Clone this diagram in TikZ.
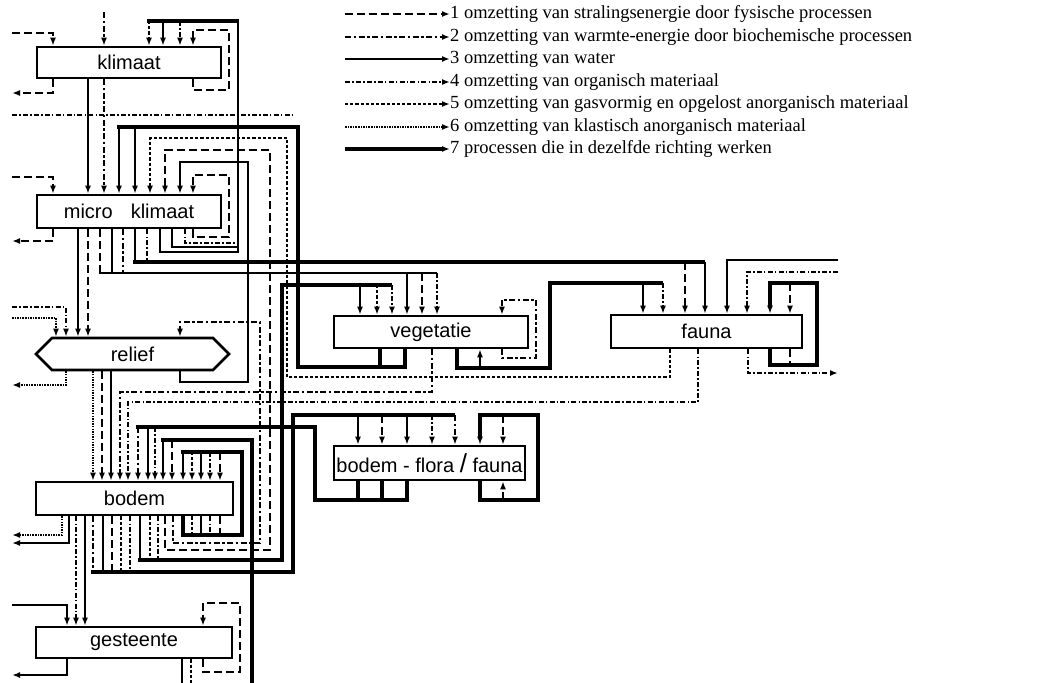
\documentclass[tikz,border=0pt]{standalone}
\usepackage{fontspec}
\setmainfont{Liberation Serif}
\newfontfamily\boxfont{Liberation Sans}
\usetikzlibrary{arrows.meta,shapes.symbols}
\tikzset{
  lb/.style={line width=1.8pt},
  s1/.style={lb,dash pattern=on 8pt off 4pt},
  s2/.style={line width=1.8pt,dash pattern=on 6pt off 2.5pt on 2.5pt off 2.5pt},
  s3/.style={lb},
  s4/.style={lb,dash pattern=on 5pt off 2.2pt on 1.5pt off 2.2pt},
  s5/.style={lb,dash pattern=on 3.2pt off 2pt},
  s6/.style={line width=2.5pt,dash pattern=on 1.5pt off 1.1pt},
  s7/.style={line width=3.4pt},
  ar/.style={-{Latex[length=8pt,width=6pt]}},
  box/.style={draw,line width=2.6pt,fill=white,inner sep=0pt,font=\boxfont\fontsize{20}{24}\selectfont},
  leg/.style={anchor=west,inner sep=0pt,font=\fontsize{18.5}{22}\selectfont},
}
\begin{document}
\begin{tikzpicture}[x=1pt,y=-1pt]
\fill[white] (0,0) rectangle (1053,683);
\useasboundingbox (0,0) rectangle (1053,683);

% ---------- boxes ----------
\node[box,minimum width=184pt,minimum height=31pt] (k) at (129,62.5) {klimaat};
\node[box,minimum width=184pt,minimum height=33pt] (m) at (129,211.5) {micro\hspace{18pt}klimaat};
\node[box,shape=signal,signal to=west and east,signal pointer angle=90,minimum width=193pt,minimum height=32pt] (r) at (132.5,354) {relief};
\node[box,minimum width=194pt,minimum height=32pt] (v) at (431,332) {vegetatie};
\node[box,minimum width=191pt,minimum height=33pt] (f) at (706.5,331.5) {fauna};
\node[box,minimum width=191pt,minimum height=34pt] (bff) at (429.5,463) {bodem - flora {\fontsize{26}{26}\selectfont/} fauna};
\node[box,minimum width=197pt,minimum height=33pt] (b) at (134.5,498.5) {bodem};
\node[box,minimum width=196pt,minimum height=31pt] (g) at (134,642.5) {gesteente};

% ---------- legend ----------
\node[leg] (l1) at (450,14) {1 omzetting van stralingsenergie door fysische processen};
\node[leg] (l2) at (450,37) {2 omzetting van warmte-energie door biochemische processen};
\node[leg] (l3) at (450,59) {3 omzetting van water};
\node[leg] (l4) at (450,82) {4 omzetting van organisch materiaal};
\node[leg] (l5) at (450,104) {5 omzetting van gasvormig en opgelost anorganisch materiaal};
\node[leg] (l6) at (450,127) {6 omzetting van klastisch anorganisch materiaal};
\node[leg] (l7) at (450,149) {7 processen die in dezelfde richting werken};
\coordinate (c1) at (345,14);  \draw[s1,ar] (c1) -- (l1.west);
\coordinate (c2) at (345,37);  \draw[s2,ar] (c2) -- (l2.west);
\coordinate (c3) at (345,59);  \draw[s3,ar] (c3) -- (l3.west);
\coordinate (c4) at (345,82);  \draw[s4,ar] (c4) -- (l4.west);
\coordinate (c5) at (345,104); \draw[s5,ar] (c5) -- (l5.west);
\coordinate (c6) at (345,127); \draw[s6,ar] (c6) -- (l6.west);
\coordinate (c7) at (345,149); \draw[s7,ar] (c7) -- (l7.west);

% ---------- klimaat ----------
\coordinate (kinL) at (12,33);  \draw[s1,ar] (kinL) -| (53,0 |- k.north);
\coordinate (koutL) at (12,93); \draw[s1,ar] (53,0 |- k.south) |- (koutL);
\coordinate (ktop) at (104,12); \draw[s2,ar] (ktop) -- (104,0 |- k.north);
\draw[s1,ar] (193,0 |- k.south) -- (193,90) -- (229,90) -- (229,30) -- (193,30) -- (193,0 |- k.north);
\draw[s3,ar] (88,0 |- k.south) -- (88,0 |- m.north);
\draw[s2,ar] (104,0 |- k.south) -- (104,0 |- m.north);
% micro klimaat -> klimaat
\draw[s3] (160,0 |- m.south) -- (160,252) -- (238,252) -- (238,21);
\draw[s3] (172,0 |- m.south) -- (172,247) -- (238,247);
\draw[s4] (185,0 |- m.south) -- (185,243) -- (238,243);
\draw[s7] (239,21) -- (147.3,21);
\draw[s5,ar] (149,21) -- (149,0 |- k.north);
\draw[s3,ar] (163,21) -- (163,0 |- k.north);
\draw[s4,ar] (180,21) -- (180,0 |- k.north);
\coordinate (hL) at (12,115); \coordinate (hR) at (292,115);
\draw[s4] (hL) -- (hR);

% ---------- micro klimaat ----------
\coordinate (minL) at (12,177);  \draw[s1,ar] (minL) -| (53,0 |- m.north);
\coordinate (moutL) at (12,241); \draw[s1,ar] (53,0 |- m.south) |- (moutL);
\draw[s1,ar] (193,0 |- m.south) -- (193,237) -- (229,237) -- (229,175) -- (193,175) -- (193,0 |- m.north);
% vegetatie -> micro klimaat
\draw[s7] (380,0 |- v.south) -- (380,367) -- (298,367) -- (298,127) -- (117.3,127);
\draw[s7] (405,0 |- v.south) -- (405,367) -- (380,367);
\draw[s3,ar] (119,127) -- (119,0 |- m.north);
\draw[s3,ar] (135,127) -- (135,0 |- m.north);
% fauna -> micro klimaat
\draw[s5,ar] (670,0 |- f.south) -- (670,377) -- (287,377) -- (287,138) -- (150,138) -- (150,0 |- m.north);
% bodem -> micro klimaat
\draw[s1,ar] (165,0 |- b.south) -- (165,550) -- (270,550) -- (270,150) -- (165,150) -- (165,0 |- m.north);
% relief -> micro klimaat
\draw[s3,ar] (180,0 |- r.south) -- (180,382) -- (248,382) -- (248,162) -- (180,162) -- (180,0 |- m.north);

% ---------- micro klimaat -> relief ----------
\draw[s3,ar] (78,0 |- m.south) -- (78,0 |- r.north);
\draw[s1,ar] (88,0 |- m.south) -- (88,0 |- r.north);

% ---------- micro klimaat -> vegetatie ----------
\draw[s1] (100,0 |- m.south) -- (100,273);
\draw[s3] (112,0 |- m.south) -- (112,273);
\draw[s2] (123,0 |- m.south) -- (123,273);
\draw[line width=2.2pt] (99,273) -- (437,273);
\draw[s3,ar] (407,273) -- (407,0 |- v.north);
\draw[s1,ar] (422,273) -- (422,0 |- v.north);
\draw[s4,ar] (437,273) -- (437,0 |- v.north);

% ---------- micro klimaat -> fauna ----------
\draw[s3] (135,0 |- m.south) -- (135,262);
\draw[s4] (147,0 |- m.south) -- (147,262);
\draw[s7] (133.3,262) -- (705,262);
\draw[s1,ar] (685,262) -- (685,0 |- f.north);
\draw[s3,ar] (705,262) -- (705,0 |- f.north);

% ---------- relief ----------
\coordinate (rinA) at (12,307); \draw[s4,ar] (rinA) -| (66,0 |- r.north);
\coordinate (rinB) at (12,318); \draw[s6,ar] (rinB) -| (56,0 |- r.north);
\coordinate (routL) at (12,385); \draw[s6,ar] (66,0 |- r.south) |- (routL);
\draw[s6,ar] (93,0 |- r.south) -- (93,0 |- b.north);
\draw[s1,ar] (102,0 |- r.south) -- (102,0 |- b.north);
\draw[s3,ar] (111,0 |- r.south) -- (111,0 |- b.north);
% bodem -> relief
\draw[s2,ar] (173,0 |- b.south) -- (173,543) -- (260,543) -- (260,322) -- (180,322) -- (180,0 |- r.north);

% ---------- vegetatie ----------
\draw[s2,ar] (502,0 |- v.south) -- (502,358) -- (536,358) -- (536,300) -- (502,300) -- (502,0 |- v.north);
\draw[s7] (457,0 |- v.south) -- (457,368) -- (550,368) -- (550,283) -- (663,283);
\draw[s3,ar] (480,368) -- (480,0 |- v.south);
\draw[s3,ar] (643,283) -- (643,0 |- f.north);
\draw[s4,ar] (663,283) -- (663,0 |- f.north);
% vegetatie -> bodem
\draw[s2,ar] (432,0 |- v.south) -- (432,392) -- (120,392) -- (120,0 |- b.north);
% fauna -> bodem
\draw[s4,ar] (698,0 |- f.south) -- (698,402) -- (128,402) -- (128,0 |- b.north);

% ---------- fauna ----------
\coordinate (fR1) at (838,260); \draw[s3,ar] (fR1) -| (727,0 |- f.north);
\coordinate (fR2) at (838,272); \draw[s4,ar] (fR2) -| (747,0 |- f.north);
\coordinate (fR3) at (838,373); \draw[s4,ar] (748,0 |- f.south) |- (fR3);
\draw[s7,ar] (770,0 |- f.south) -- (770,365) -- (817,365) -- (817,283) -- (770,283) -- (770,0 |- f.north);
\draw[s1,ar] (790,283) -- (790,0 |- f.north);
\draw[s1] (790,0 |- f.south) -- (790,365);

% ---------- bodem -> vegetatie ----------
\draw[s3] (140,0 |- b.south) -- (140,560);
\draw[s5] (150,0 |- b.south) -- (150,560);
\draw[s4] (158,0 |- b.south) -- (158,560);
\draw[s7] (138.3,560) -- (282,560) -- (282,285) -- (392,285);
\draw[s3,ar] (360,285) -- (360,0 |- v.north);
\draw[s5,ar] (377,285) -- (377,0 |- v.north);
\draw[s4,ar] (392,285) -- (392,0 |- v.north);

% ---------- bodem -> bodem-flora/fauna ----------
\draw[s2] (93,0 |- b.south) -- (93,572);
\draw[s3] (103,0 |- b.south) -- (103,572);
\draw[s1] (112,0 |- b.south) -- (112,572);
\draw[s5] (121,0 |- b.south) -- (121,572);
\draw[s4] (130,0 |- b.south) -- (130,572);
\draw[s7] (91.3,572) -- (293,572) -- (293,415) -- (455,415);
\draw[s3,ar] (358,415) -- (358,0 |- bff.north);
\draw[s1,ar] (382,415) -- (382,0 |- bff.north);
\draw[s3,ar] (407,415) -- (407,0 |- bff.north);
\draw[s4,ar] (432,415) -- (432,0 |- bff.north);
\draw[s2,ar] (455,415) -- (455,0 |- bff.north);

% ---------- bodem-flora/fauna -> bodem ----------
\draw[s7] (358,0 |- bff.south) -- (358,500);
\draw[s7] (382,0 |- bff.south) -- (382,500);
\draw[s7] (407,0 |- bff.south) -- (407,500) -- (315,500) -- (315,427) -- (136.3,427);
\draw[s2,ar] (138,427) -- (138,0 |- b.north);
\draw[s3,ar] (148,427) -- (148,0 |- b.north);
\draw[s4,ar] (155,427) -- (155,0 |- b.north);
% bodem-flora/fauna self loops
\draw[s7,ar] (480,0 |- bff.south) -- (480,500) -- (538,500) -- (538,415) -- (480,415) -- (480,0 |- bff.north);
\draw[s1,ar] (503,415) -- (503,0 |- bff.north);
\draw[s1,ar] (503,500) -- (503,0 |- bff.south);

% ---------- from below -> bodem ----------
\coordinate (gwB) at (252,683);
\draw[s7] (gwB) -- (252,440) -- (161.3,440);
\draw[s3,ar] (163,440) -- (163,0 |- b.north);
\draw[s1,ar] (172,440) -- (172,0 |- b.north);

% ---------- bodem self loop ----------
\draw[s7] (183,0 |- b.south) -- (183,535) -- (242,535) -- (242,452) -- (181.3,452);
\draw[s5] (192,0 |- b.south) -- (192,535);
\draw[s3] (201,0 |- b.south) -- (201,535);
\draw[s4] (210,0 |- b.south) -- (210,535);
\draw[s1] (220,0 |- b.south) -- (220,535);
\draw[s3,ar] (183,452) -- (183,0 |- b.north);
\draw[s5,ar] (192,452) -- (192,0 |- b.north);
\draw[s3,ar] (201,452) -- (201,0 |- b.north);
\draw[s4,ar] (210,452) -- (210,0 |- b.north);
\draw[s1,ar] (220,452) -- (220,0 |- b.north);

% ---------- bodem outputs ----------
\coordinate (boutA) at (12,535); \draw[s6,ar] (62,0 |- b.south) |- (boutA);
\coordinate (boutB) at (12,543); \draw[s3,ar] (69,0 |- b.south) |- (boutB);
\draw[s4,ar] (76,0 |- b.south) -- (76,0 |- g.north);
\draw[s3,ar] (85,0 |- b.south) -- (85,0 |- g.north);

% ---------- gesteente ----------
\coordinate (ginL) at (12,605);  \draw[s3,ar] (ginL) -| (67,0 |- g.north);
\coordinate (goutL) at (12,675); \draw[s3,ar] (67,0 |- g.south) |- (goutL);
\draw[s1,ar] (203,0 |- g.south) -- (203,672) -- (240,672) -- (240,603) -- (203,603) -- (203,0 |- g.north);
\coordinate (gb1) at (182,683); \draw[s3] (182,0 |- g.south) -- (gb1);
\coordinate (gb2) at (191,683); \draw[s5] (191,0 |- g.south) -- (gb2);
\end{tikzpicture}
\end{document}
